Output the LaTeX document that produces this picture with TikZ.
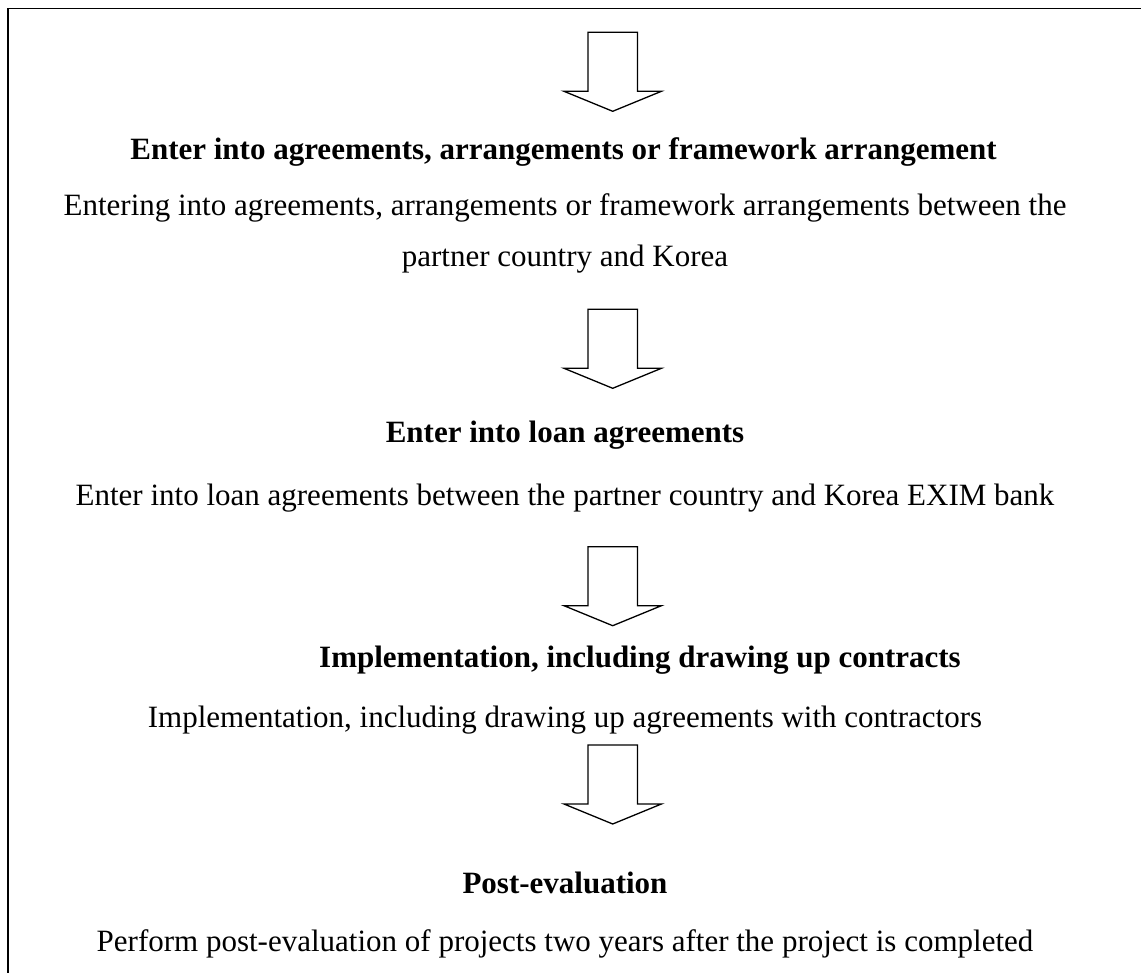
\documentclass[tikz,border=0pt]{standalone}
\usepackage{fontspec}
\setmainfont{Liberation Serif}
\begin{document}
\begin{tikzpicture}[x=1pt,y=-1pt,
  frameline/.style={line width=1.8pt,line cap=rect},
  arrowline/.style={line width=1.3pt,line join=miter},
  headtxt/.style={anchor=base,inner sep=0pt,font=\fontsize{31}{37}\selectfont\bfseries},
  bodytxt/.style={anchor=base,inner sep=0pt,font=\fontsize{31}{37}\selectfont},
  blockarrow/.pic={\draw[arrowline] (-24.7,0) -- (24.7,0) -- (24.7,59) -- (48.7,59) -- (0,79) -- (-48.7,59) -- (-24.7,59) -- cycle;}]
\useasboundingbox (0,0) rectangle (1141,973);
\coordinate (ftr) at (1141,8.5);
\coordinate (ftl) at (8,8.5);
\coordinate (fbl) at (8,973);
\draw[frameline] (ftr) -- (ftl) -- (fbl);

\pic at (612.7,32.3) {blockarrow};
\node[headtxt] (h1) at (563.5,160) {Enter into agreements, arrangements or framework arrangement};
\node[bodytxt] (b1a) at (565,216) {Entering into agreements, arrangements or framework arrangements between the};
\node[bodytxt] (b1b) at (565,267) {partner country and Korea};

\pic at (612.7,309.3) {blockarrow};
\node[headtxt] (h2) at (565,443) {Enter into loan agreements};
\node[bodytxt] (b2) at (565,505) {Enter into loan agreements between the partner country and Korea EXIM bank};

\pic at (612.7,546.7) {blockarrow};
\node[headtxt] (h3) at (640,667) {Implementation, including drawing up contracts};
\node[bodytxt] (b3) at (565,727) {Implementation, including drawing up agreements with contractors};

\pic at (612.7,745) {blockarrow};
\node[headtxt] (h4) at (565,893) {Post-evaluation};
\node[bodytxt] (b4) at (565,951) {Perform post-evaluation of projects two years after the project is completed};
\end{tikzpicture}
\end{document}
